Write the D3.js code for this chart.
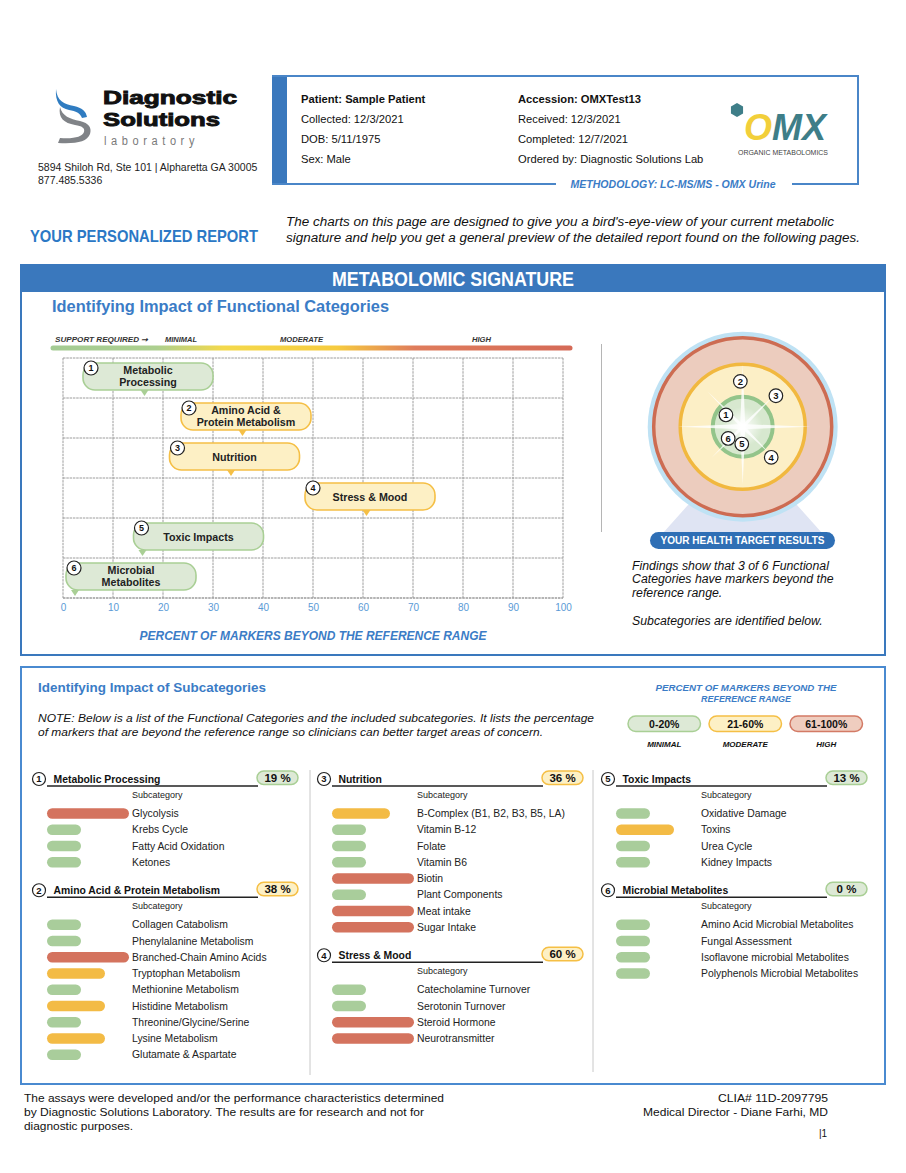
<!DOCTYPE html>
<html><head><meta charset="utf-8">
<script src="https://cdn.jsdelivr.net/npm/d3@7"></script>
<style>
html,body{margin:0;padding:0;background:#fff;}
svg{display:block;font-family:"Liberation Sans",Arial,Helvetica,sans-serif;}
</style></head><body>
<svg id="page" width="906" height="1173"></svg>
<script>
// ---------------- DATA ----------------
const categories = ["Metabolic Processing","Amino Acid & Protein Metabolism","Nutrition","Stress & Mood","Toxic Impacts","Microbial Metabolites"];
const bubbleLabels = [["Metabolic","Processing"],["Amino Acid &","Protein Metabolism"],["Nutrition"],["Stress & Mood"],["Toxic Impacts"],["Microbial","Metabolites"]];
const categoryPercent = [19, 38, 36, 60, 13, 0];
// pointer positions as read on the functional-category chart (percent axis)
const chartMarkerPercent = [16.3, 35.9, 33.6, 60.7, 15.9, 2.4];
const pointerSide = ["mid","mid","mid","mid","left","left"];
const xTicks = [0,10,20,30,40,50,60,70,80,90,100];
// target positions: angle (deg, clockwise from top) and distance (% of target radius)
const targetAngle = [-55, -3, 47, 137, 183, 231];
const targetDistance = [23, 51, 51, 47, 19.5, 21];
const rangeLabels = ["0-20%","21-60%","61-100%"];
const rangeNames = ["MINIMAL","MODERATE","HIGH"];
const levelUpper = {L:20, M:60, H:100};
const sub1 = ["Glycolysis","Krebs Cycle","Fatty Acid Oxidation","Ketones"];
const lev1 = ["H","L","L","L"];
const sub2 = ["Collagen Catabolism","Phenylalanine Metabolism","Branched-Chain Amino Acids","Tryptophan Metabolism","Methionine Metabolism","Histidine Metabolism","Threonine/Glycine/Serine","Lysine Metabolism","Glutamate & Aspartate"];
const lev2 = ["L","L","H","M","L","M","L","M","L"];
const sub3 = ["B-Complex (B1, B2, B3, B5, LA)","Vitamin B-12","Folate","Vitamin B6","Biotin","Plant Components","Meat intake","Sugar Intake"];
const lev3 = ["M","L","L","L","H","L","H","H"];
const sub4 = ["Catecholamine Turnover","Serotonin Turnover","Steroid Hormone","Neurotransmitter"];
const lev4 = ["L","L","H","H"];
const sub5 = ["Oxidative Damage","Toxins","Urea Cycle","Kidney Impacts"];
const lev5 = ["L","M","L","L"];
const sub6 = ["Amino Acid Microbial Metabolites","Fungal Assessment","Isoflavone microbial Metabolites","Polyphenols Microbial Metabolites"];
const lev6 = ["L","L","L","L"];

// ---------------- STYLE ----------------
const BLUE = "#3a78bd", TBLUE = "#3b7cc6";
const GREEN = {fill:"#dde9d6", stroke:"#a9cf95", bar:"#a9cd9b"};
const YEL = {fill:"#fdf0c5", stroke:"#f5bf45", bar:"#f3bb45"};
const RED = {fill:"#efcdbf", stroke:"#d37a65", bar:"#d4735e"};
const pal = p => p <= 20 ? GREEN : (p <= 60 ? YEL : RED);
const FN = '"Liberation Sans Narrow","Liberation Sans",Arial,sans-serif';

const svg = d3.select("#page");
function txt(g, x, y, s, o = {}) {
  const t = g.append("text").attr("x", x).attr("y", y).text(s)
    .attr("font-size", o.size || 11).attr("fill", o.fill || "#222");
  if (o.weight) t.attr("font-weight", o.weight);
  if (o.style) t.attr("font-style", o.style);
  if (o.anchor) t.attr("text-anchor", o.anchor);
  if (o.len) t.attr("textLength", o.len).attr("lengthAdjust", "spacingAndGlyphs");
  if (o.family) t.attr("font-family", o.family);
  if (o.ls) t.attr("letter-spacing", o.ls);
  if (o.stroke) t.attr("stroke", o.fill || "#222").attr("stroke-width", o.stroke);
  return t;
}

// ---------------- HEADER ----------------
const hdr = svg.append("g");
// logo swirl
hdr.append("path").attr("d","M56,89 C57,101 64,104 74,106 C82,108 86,111 87,117 L82,118 C80,113 76,111 69,110 C60,108 55,102 56,89 Z").attr("fill","#2f7cc1");
hdr.append("path").attr("d","M60,107 C62,116 70,119 80,121 C89,123 92,128 90,134 C87,142 76,144 58,143 L60,138 C74,139 82,137 84,132 C85,128 82,126 75,125 C64,123 58,118 60,107 Z").attr("fill","#808387");
txt(hdr, 103, 104, "Diagnostic", {size:18.5, weight:"bold", fill:"#111", len:134, stroke:0.9});
txt(hdr, 103, 125.5, "Solutions", {size:18.5, weight:"bold", fill:"#111", len:117, stroke:0.9});
txt(hdr, 104, 145, "laboratory", {size:12, fill:"#7a7a7a", len:95, ls:5});
txt(hdr, 38, 171, "5894 Shiloh Rd, Ste 101 | Alpharetta GA 30005", {size:10.5});
txt(hdr, 38, 184, "877.485.5336", {size:10.5});

// patient box
hdr.append("rect").attr("x",272).attr("y",75).attr("width",15).attr("height",110).attr("fill",BLUE);
hdr.append("path").attr("d","M272,76 H858 V184 H792 M556,184 H272").attr("fill","none").attr("stroke","#4a86c8").attr("stroke-width",2);
const pL = ["Patient: Sample Patient","Collected: 12/3/2021","DOB: 5/11/1975","Sex: Male"];
const pR = ["Accession: OMXTest13","Received: 12/3/2021","Completed: 12/7/2021","Ordered by: Diagnostic Solutions Lab"];
const pY = [103, 122.5, 143, 163];
pL.forEach((s,i)=>txt(hdr, 301, pY[i], s, {size:11.2, weight: i===0?"bold":null, fill:"#111"}));
pR.forEach((s,i)=>txt(hdr, 518, pY[i], s, {size:11.2, weight: i===0?"bold":null, fill:"#111"}));
txt(hdr, 673, 188, "METHODOLOGY: LC-MS/MS - OMX Urine", {size:10, weight:"bold", style:"italic", fill:TBLUE, anchor:"middle", len:205});
// OMX logo
const hex = d3.range(6).map(k => [737 + 7*Math.cos(Math.PI/3*k + Math.PI/6), 110 + 7*Math.sin(Math.PI/3*k + Math.PI/6)]);
hdr.append("polygon").attr("points", hex.map(p=>p.join(",")).join(" ")).attr("fill","#3e7e88");
const omx = hdr.append("text").attr("x",744).attr("y",140).attr("font-size",36).attr("font-weight","bold").attr("font-style","italic").attr("textLength",82).attr("lengthAdjust","spacingAndGlyphs");
omx.append("tspan").text("O").attr("fill","#f2cf3a");
omx.append("tspan").text("MX").attr("fill","#3e7e88");
txt(hdr, 783, 155, "ORGANIC METABOLOMICS", {size:7, fill:"#444", anchor:"middle", len:90});

txt(hdr, 30, 242, "YOUR PERSONALIZED REPORT", {size:16.5, weight:"bold", fill:"#2b78c5", family:FN, len:228});
txt(hdr, 286, 226, "The charts on this page are designed to give you a bird's-eye-view of your current metabolic", {size:12.5, style:"italic", fill:"#111", len:548});
txt(hdr, 286, 242, "signature and help you get a general preview of the detailed report found on the following pages.", {size:12.5, style:"italic", fill:"#111", len:574});

// ---------------- BOX 1 ----------------
const b1 = svg.append("g");
b1.append("rect").attr("x",21).attr("y",265).attr("width",864).attr("height",390).attr("fill","none").attr("stroke",BLUE).attr("stroke-width",2);
b1.append("rect").attr("x",20).attr("y",264).attr("width",866).attr("height",28).attr("fill",BLUE);
txt(b1, 453, 285.5, "METABOLOMIC SIGNATURE", {size:19.5, weight:"bold", fill:"#fff", anchor:"middle", family:FN, len:242});
txt(b1, 52, 312, "Identifying Impact of Functional Categories", {size:16, weight:"bold", fill:TBLUE, len:337});
b1.append("line").attr("x1",601.5).attr("x2",601.5).attr("y1",344).attr("y2",532).attr("stroke","#b5b5b5").attr("stroke-width",1);

// gradient scale
const defs = svg.append("defs");
const lg = defs.append("linearGradient").attr("id","sup").attr("gradientUnits","userSpaceOnUse")
  .attr("x1",53).attr("x2",570).attr("y1",0).attr("y2",0);
[[0,"#a4cb93"],[0.2,"#accf8f"],[0.33,"#f4d94b"],[0.55,"#f6cb3f"],[0.7,"#df7c5c"],[1,"#d56a57"]].forEach(s=>lg.append("stop").attr("offset",s[0]).attr("stop-color",s[1]));
b1.append("line").attr("x1",53).attr("x2",570).attr("y1",348).attr("y2",348).attr("stroke","url(#sup)").attr("stroke-width",5).attr("stroke-linecap","round");
txt(b1, 55, 341.5, "SUPPORT REQUIRED \u279E", {size:7.3, weight:"bold", style:"italic", fill:"#333", len:93});
txt(b1, 165, 341.5, "MINIMAL", {size:7.3, weight:"bold", style:"italic", fill:"#333", len:32});
txt(b1, 280, 341.5, "MODERATE", {size:7.3, weight:"bold", style:"italic", fill:"#333", len:43});
txt(b1, 472, 341.5, "HIGH", {size:7.3, weight:"bold", style:"italic", fill:"#333", len:19});

// chart
const x = d3.scaleLinear().domain([0,100]).range([63,563]);
const y = d3.scaleBand().domain(d3.range(categories.length)).range([358,598]);
const [gy0, gy1] = y.range();
const grid = b1.append("g");
grid.selectAll("line.v").data(xTicks).join("line").attr("class","v")
  .attr("x1",d=>x(d)).attr("x2",d=>x(d)).attr("y1",gy0).attr("y2",gy1)
  .attr("stroke","#9c9c9c").attr("stroke-width",1).attr("stroke-dasharray","2.5,0.8");
grid.selectAll("line.h").data(d3.range(categories.length+1)).join("line").attr("class","h")
  .attr("x1",x(0)).attr("x2",x(100)).attr("y1",i=>gy0+i*y.bandwidth()).attr("y2",i=>gy0+i*y.bandwidth())
  .attr("stroke","#9c9c9c").attr("stroke-width",i=>i===categories.length?1.6:1).attr("stroke-dasharray","2.5,0.8");
const ax = b1.append("g").attr("transform",`translate(0,${gy1})`)
  .call(d3.axisBottom(x).tickValues(xTicks).tickSize(0).tickPadding(6));
ax.select(".domain").remove();
ax.selectAll("text").attr("font-size",10).attr("fill","#5a9ad6").attr("font-family",'"Liberation Sans",Arial,sans-serif');
txt(b1, 313, 640, "PERCENT OF MARKERS BEYOND THE REFERENCE RANGE", {size:12, weight:"bold", style:"italic", fill:TBLUE, anchor:"middle", len:347});

// bubbles
const bub = b1.append("g");
categories.forEach((c,i)=>{
  const col = pal(categoryPercent[i]);
  const tipX = x(chartMarkerPercent[i]);
  const top = y(i)+5, h = 27, w = 130;
  const left = pointerSide[i]==="left" ? tipX-9 : tipX-61.5;
  const tipY = y(i)+y.bandwidth()-2;
  const g = bub.append("g");
  g.append("rect").attr("x",left).attr("y",top).attr("width",w).attr("height",h).attr("rx",12).attr("ry",12)
    .attr("fill",col.fill).attr("stroke",col.stroke).attr("stroke-width",1.6);
  g.append("polygon").attr("points",`${tipX-4},${top+h} ${tipX+4},${top+h} ${tipX},${tipY}`).attr("fill",col.stroke);
  const cx = left+w/2, cy = top+h/2;
  const lines = bubbleLabels[i];
  if (lines.length===1) txt(g, cx, cy+4, lines[0], {size:10.7, weight:"bold", fill:"#222", anchor:"middle"});
  else { txt(g, cx, cy-2.2, lines[0], {size:10.7, weight:"bold", fill:"#222", anchor:"middle"});
         txt(g, cx, cy+9.2, lines[1], {size:10.7, weight:"bold", fill:"#222", anchor:"middle"}); }
  g.append("circle").attr("cx",left+8).attr("cy",top+5).attr("r",7).attr("fill","#fff").attr("stroke","#222").attr("stroke-width",1.2);
  txt(g, left+8, top+8.3, String(i+1), {size:9, weight:"bold", fill:"#111", anchor:"middle"});
});

// target
const T = {cx:742.7, cy:426.7};
const tg = b1.append("g");
tg.append("polygon").attr("points","688,505 797,505 822,533 663,533").attr("fill","#dfe4f3");
tg.append("circle").attr("cx",T.cx).attr("cy",T.cy).attr("r",95).attr("fill","#bfe2f4");
tg.append("circle").attr("cx",T.cx).attr("cy",T.cy).attr("r",89).attr("fill","#ecccbe").attr("stroke","#cd6c52").attr("stroke-width",3.5);
tg.append("circle").attr("cx",T.cx).attr("cy",T.cy).attr("r",62.5).attr("fill","#fcefc6").attr("stroke","#f1b83f").attr("stroke-width",3.5);
tg.append("circle").attr("cx",T.cx).attr("cy",T.cy).attr("r",30).attr("fill","#d7e8cf").attr("stroke","#93c48a").attr("stroke-width",4);
const rg = defs.append("radialGradient").attr("id","glow");
rg.append("stop").attr("offset",0).attr("stop-color","#fff").attr("stop-opacity",1);
rg.append("stop").attr("offset",1).attr("stop-color","#fff").attr("stop-opacity",0);
const rays = [[0,62],[90,68],[180,58],[270,65],[45,46],[135,40],[225,44],[315,50]];
rays.forEach(([a,L])=>{
  const r = a*Math.PI/180, ux = Math.sin(r), uy = -Math.cos(r), px = -uy, py = ux, bw = a%90===0?2.6:1.8;
  tg.append("polygon").attr("points",`${T.cx+px*bw},${T.cy+py*bw} ${T.cx+ux*L},${T.cy+uy*L} ${T.cx-px*bw},${T.cy-py*bw}`)
    .attr("fill","#fff").attr("opacity",0.8);
});
tg.append("circle").attr("cx",T.cx).attr("cy",T.cy).attr("r",20).attr("fill","url(#glow)");
const rT = d3.scaleLinear().domain([0,100]).range([0,89]);
categories.forEach((c,i)=>{
  const a = targetAngle[i]*Math.PI/180, d = rT(targetDistance[i]);
  const px = T.cx + d*Math.sin(a), py = T.cy - d*Math.cos(a);
  tg.append("circle").attr("cx",px).attr("cy",py).attr("r",6.8).attr("fill","#fff").attr("stroke","#222").attr("stroke-width",1.2);
  txt(tg, px, py+3.3, String(i+1), {size:9.5, weight:"bold", fill:"#111", anchor:"middle"});
});
tg.append("rect").attr("x",650).attr("y",532).attr("width",185).attr("height",17).attr("rx",8.5).attr("fill","#2f6fb5");
txt(tg, 742.5, 544.3, "YOUR HEALTH TARGET RESULTS", {size:10, weight:"bold", fill:"#fff", anchor:"middle", len:164});
const findings = ["Findings show that 3 of 6 Functional","Categories have markers beyond the","reference range."];
findings.forEach((s,i)=>txt(tg, 632, 569.5+i*13.5, s, {size:12.3, style:"italic", fill:"#111"}));
txt(tg, 632, 624.5, "Subcategories are identified below.", {size:12.3, style:"italic", fill:"#111"});

// ---------------- BOX 2 ----------------
const b2 = svg.append("g");
b2.append("rect").attr("x",21).attr("y",667).attr("width",864).attr("height",417).attr("fill","none").attr("stroke","#4a8ad0").attr("stroke-width",2);
txt(b2, 38, 692, "Identifying Impact of Subcategories", {size:13.5, weight:"bold", fill:TBLUE, len:228});
txt(b2, 38, 722, "NOTE: Below is a list of the Functional Categories and the included subcategories. It lists the percentage", {size:11.3, style:"italic", fill:"#111", len:556});
txt(b2, 38, 735.5, "of markers that are beyond the reference range so clinicians can better target areas of concern.", {size:11.3, style:"italic", fill:"#111", len:505});
txt(b2, 746, 690.5, "PERCENT OF MARKERS BEYOND THE", {size:9.5, weight:"bold", style:"italic", fill:TBLUE, anchor:"middle", len:181});
txt(b2, 746, 701.5, "REFERENCE RANGE", {size:9.5, weight:"bold", style:"italic", fill:TBLUE, anchor:"middle", len:90});
const pillX = [628, 709, 790];
const pillVal = [20, 60, 100];
rangeLabels.forEach((s,i)=>{
  const col = pal(pillVal[i]);
  b2.append("rect").attr("x",pillX[i]).attr("y",716).attr("width",72.5).attr("height",15.5).attr("rx",7.75)
    .attr("fill",col.fill).attr("stroke",col.stroke).attr("stroke-width",1.5);
  txt(b2, pillX[i]+36.25, 728, s, {size:10.5, weight:"bold", fill:"#111", anchor:"middle"});
  txt(b2, pillX[i]+36.25, 747, rangeNames[i], {size:8, weight:"bold", style:"italic", fill:"#111", anchor:"middle"});
});
b2.append("line").attr("x1",310).attr("x2",310).attr("y1",770).attr("y2",1075).attr("stroke","#c8c8c8");
b2.append("line").attr("x1",593).attr("x2",593).attr("y1",770).attr("y2",1072).attr("stroke","#c8c8c8");

const barW = d3.scaleLinear().domain([0,100]).range([22,82]);
const columns = [
  {x:47, cats:[[0,sub1,lev1],[1,sub2,lev2]]},
  {x:332, cats:[[2,sub3,lev3],[3,sub4,lev4]]},
  {x:616, cats:[[4,sub5,lev5],[5,sub6,lev6]]}
];
const ROW = 16.25;
columns.forEach(col=>{
  let H = 779;
  col.cats.forEach(([ci, subs, levs])=>{
    const g = b2.append("g");
    const X = col.x;
    g.append("circle").attr("cx",X-8).attr("cy",H).attr("r",6.5).attr("fill","#fff").attr("stroke","#222").attr("stroke-width",1.2);
    txt(g, X-8, H+3.3, String(ci+1), {size:9.5, weight:"bold", fill:"#111", anchor:"middle"});
    txt(g, X+6.5, H+3.5, categories[ci], {size:10.4, weight:"bold", fill:"#111"});
    g.append("line").attr("x1",X).attr("x2",X+211).attr("y1",H+7).attr("y2",H+7).attr("stroke","#222").attr("stroke-width",1.3);
    const pc = pal(categoryPercent[ci]);
    g.append("rect").attr("x",X+210).attr("y",H-8).attr("width",41).attr("height",13.5).attr("rx",6.75)
      .attr("fill",pc.fill).attr("stroke",pc.stroke).attr("stroke-width",1.5);
    txt(g, X+230.5, H+3, categoryPercent[ci]+" %", {size:11.5, weight:"bold", fill:"#111", anchor:"middle"});
    txt(g, X+85, H+18.5, "Subcategory", {size:9, fill:"#222"});
    subs.forEach((s,k)=>{
      const cy = H+34.5+k*ROW;
      const v = levelUpper[levs[k]];
      g.append("rect").attr("x",X).attr("y",cy-5.25).attr("width",barW(v)).attr("height",10.5).attr("rx",5.25)
        .attr("fill",pal(v).bar);
      txt(g, X+85, cy+3.7, s, {size:10.4, fill:"#222"});
    });
    H = H+34.5+(subs.length-1)*ROW+28;
  });
});

// ---------------- FOOTER ----------------
const ft = svg.append("g");
txt(ft, 24, 1102, "The assays were developed and/or the performance characteristics determined", {size:11, fill:"#111", family:FN, len:420});
txt(ft, 24, 1116, "by Diagnostic Solutions Laboratory. The results are for research and not for", {size:11, fill:"#111", family:FN, len:400});
txt(ft, 24, 1130, "diagnostic purposes.", {size:11, fill:"#111", family:FN, len:109});
txt(ft, 828, 1102, "CLIA# 11D-2097795", {size:11, fill:"#111", family:FN, anchor:"end", len:110});
txt(ft, 828, 1116, "Medical Director - Diane Farhi, MD", {size:11, fill:"#111", family:FN, anchor:"end", len:185});
txt(ft, 819, 1137, "|1", {size:10, fill:"#111", family:FN});
</script></body></html>
